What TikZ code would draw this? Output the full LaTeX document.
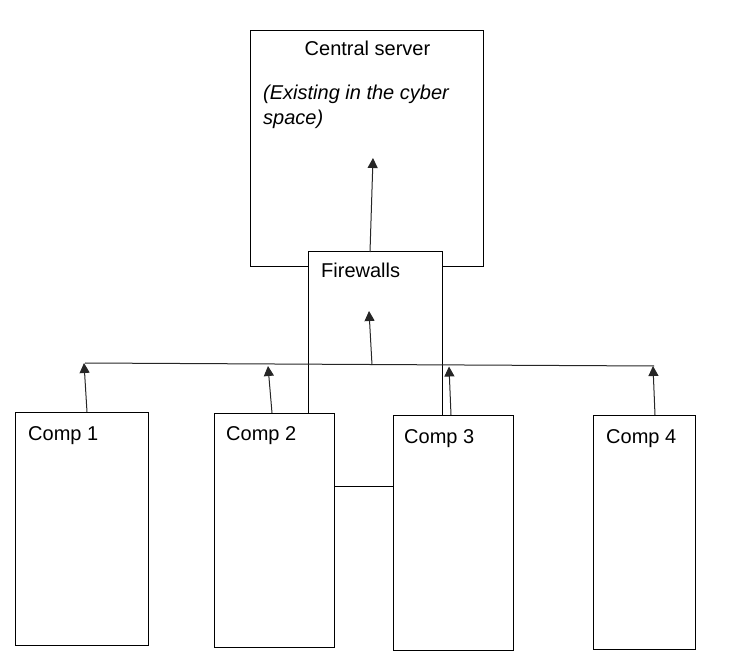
\documentclass[tikz,border=0pt]{standalone}
\usepackage{fontspec}
\setmainfont{Liberation Sans}
\usetikzlibrary{arrows.meta}
\begin{document}
\begin{tikzpicture}[x=1pt,y=-1pt,
  box/.style={draw=black,line width=1pt,fill=white,anchor=north west,inner sep=0pt},
  txt/.style={anchor=base west,inner sep=0pt,font=\fontsize{20}{24}\selectfont},
  conn/.style={draw=black!85,line width=1pt},
  arr/.style={conn,-{Triangle[length=10pt,width=10pt]}}]
\useasboundingbox (0,0) rectangle (737,663);
% central server
\node[box,minimum width=233,minimum height=236] (cs) at (250,30) {};
\node[txt,anchor=base] (cst) at (367.5,55.5) {Central server};
\node[txt,anchor=north west,align=left,font=\fontsize{20}{25}\selectfont\itshape] (csi) at (263,85) {(Existing in the cyber\\space)};
% firewalls
\node[fill=white,anchor=north west,inner sep=0pt,minimum width=134,minimum height=60] (fw) at (308,252) {};
\node[txt] (fwt) at (321,278) {Firewalls};
% computers
\node[box,minimum width=133,minimum height=233] (c1) at (15,412) {};
\node[txt] at (28,440) {Comp 1};
\node[box,minimum width=120,minimum height=234] (c2) at (214,413) {};
\node[txt] at (226,440) {Comp 2};
\node[box,minimum width=120,minimum height=235] (c3) at (393,415) {};
\node[txt] at (404,443) {Comp 3};
\node[box,minimum width=102,minimum height=234] (c4) at (593,415) {};
\node[txt] at (606,443) {Comp 4};
% firewall outline (open at bottom)
\draw[conn,black] (c2.north -| fw.west) -- (fw.north west) -- (fw.north east) -- (c3.north -| fw.east);
% bus
\coordinate (busL) at (85,363);
\coordinate (busR) at (654,366);
\draw[conn] (busL) -- (busR);
\coordinate (b1) at (84,363);
\coordinate (b2) at (268,366);
\coordinate (b3) at (449,366.5);
\coordinate (b4) at (653,366);
\coordinate (bf) at (372,365);
\coordinate (fwtip) at (369,311);
\coordinate (cstip) at (373,158);
\draw[arr] ([xshift=72pt]c1.north west) -- (b1);
\draw[arr] ([xshift=58pt]c2.north west) -- (b2);
\draw[arr] ([xshift=58pt]c3.north west) -- (b3);
\draw[arr] ([xshift=62pt]c4.north west) -- (b4);
\draw[arr] (bf) -- (fwtip);
\draw[arr] ([xshift=62pt]fw.north west) -- (cstip);
% link comp2 - comp3
\draw[conn,black] (c2.east |- 0,486) -- (c3.west |- 0,486);
\end{tikzpicture}
\end{document}
